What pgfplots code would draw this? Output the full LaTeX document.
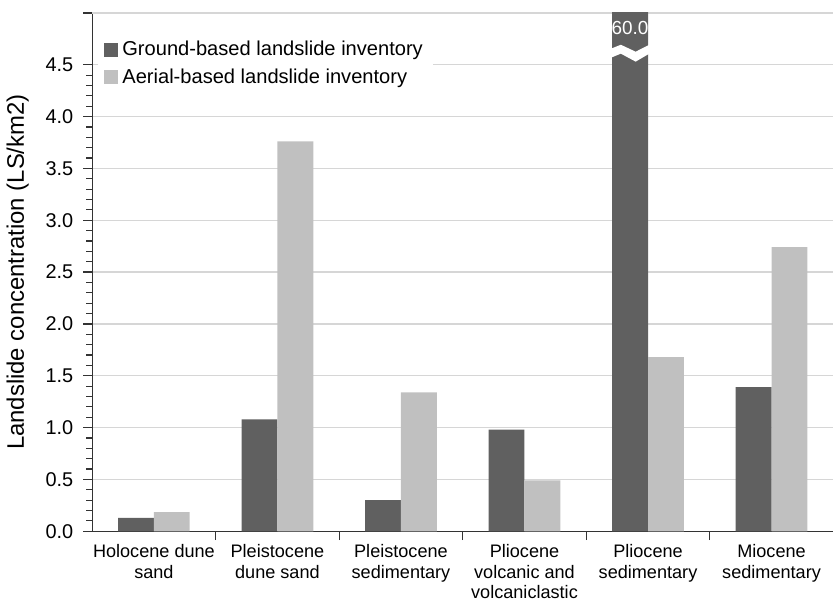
\documentclass[border=0pt]{standalone}
\usepackage{fontspec}
\setmainfont{Liberation Sans}
\usepackage{pgfplots}
\pgfplotsset{compat=1.18}
\definecolor{darkbar}{HTML}{606060}
\definecolor{lightbar}{HTML}{C0C0C0}
\definecolor{gridc}{HTML}{D6D6D6}
\definecolor{axisc}{HTML}{333333}
\begin{document}
\begin{tikzpicture}
\begin{axis}[
  scale only axis, width=372.5pt, height=260.5pt,
  xmin=-0.5, xmax=5.5, ymin=0, ymax=5,
  axis x line*=bottom, axis y line*=left,
  axis line style={-, axisc, line width=0.6pt},
  ytick={0,0.5,...,4.5},
  extra y ticks={5}, extra y tick labels={},
  minor y tick num=4,
  ymajorgrids, grid style={gridc, line width=0.7pt},
  extra y tick style={grid=major},
  yticklabel style={/pgf/number format/fixed, /pgf/number format/fixed zerofill, /pgf/number format/precision=1, /pgf/number format/assume math mode=true, font=\fontsize{10}{12}\selectfont, xshift=-1.5pt},
  y tick style={axisc, line width=0.6pt},
  tick align=outside,
  major tick length=4.5pt, minor tick length=3pt,
  xtick={0.5,1.5,...,4.5}, xticklabels={},
  x tick style={axisc, line width=0.6pt},
  extra x ticks={0,1,2,3,4,5},
  extra x tick labels={{Holocene dune\\sand},{Pleistocene\\dune sand},{Pleistocene\\sedimentary},{Pliocene\\volcanic and\\volcaniclastic},{Pliocene\\sedimentary},{Miocene\\sedimentary}},
  extra x tick style={major tick length=0pt},
  xticklabel style={align=center, font=\fontsize{9.1}{10.4}\selectfont, yshift=-3pt},
  ylabel={Landslide concentration (LS/km2)},
  ylabel style={font=\fontsize{12}{14}\selectfont, yshift=-7.5pt},
  legend style={at={(rel axis cs:0.008,0.962)}, anchor=north west, draw=none, fill=white,
    font=\fontsize{10.1}{12}\selectfont, legend cell align=left, row sep=1pt},
  legend image code/.code={\fill[#1] (0pt,-3.5pt) rectangle (7pt,3.5pt);},
  clip=true,
]
\addplot[ybar, bar width=0.29, bar shift=-0.145, fill=darkbar, draw=none] coordinates {
  (0,0.13) (1,1.08) (2,0.30) (3,0.98) (4,60.0) (5,1.39)};
\addlegendentry{Ground-based landslide inventory}
\addplot[ybar, bar width=0.29, bar shift=0.145, fill=lightbar, draw=none] coordinates {
  (0,0.185) (1,3.76) (2,1.34) (3,0.49) (4,1.68) (5,2.74)};
\addlegendentry{Aerial-based landslide inventory}
\fill[white] (axis cs:3.70,4.655) -- (axis cs:3.78,4.693) -- (axis cs:3.90,4.626) -- (axis cs:4.01,4.693)
  -- (axis cs:4.01,4.607) -- (axis cs:3.90,4.53) -- (axis cs:3.78,4.607) -- (axis cs:3.70,4.568) -- cycle;
\node[white, font=\fontsize{9.5}{11}\selectfont] at (axis cs:3.855,4.85) {60.0};
\end{axis}
\path (current axis.north west) ++(0,6.5pt);
\end{tikzpicture}
\end{document}
